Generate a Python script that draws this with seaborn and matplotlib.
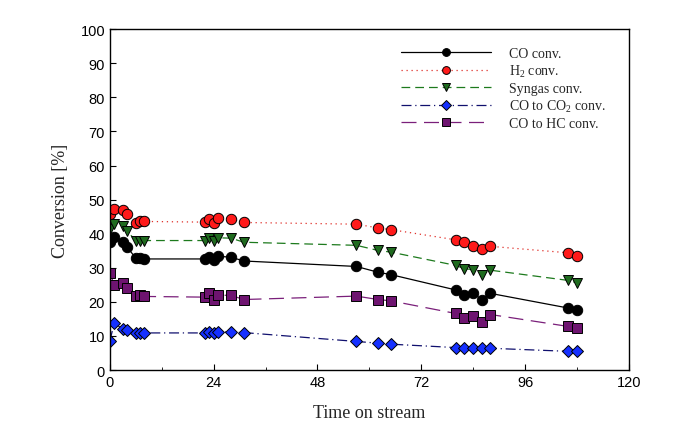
import numpy as np
import pandas as pd
import matplotlib
matplotlib.use("Agg")
import matplotlib.pyplot as plt
from matplotlib.ticker import MultipleLocator
import seaborn as sns

# Time on stream (h)
time = [0, 1, 3, 4, 6, 7, 8, 22, 23, 24, 25, 28, 31, 57, 62, 65, 80, 82, 84, 86, 88, 106, 108]

co_conv = [37.6, 39.0, 37.7, 36.1, 32.8, 33.0, 32.6, 32.6, 33.3, 32.4, 33.4, 33.1, 32.0,
           30.4, 28.7, 28.0, 23.5, 21.9, 22.5, 20.7, 22.5, 18.2, 17.7]
h2_conv = [45.9, 47.2, 47.1, 45.7, 43.1, 43.6, 43.6, 43.4, 44.4, 43.1, 44.7, 44.4, 43.3,
           42.8, 41.7, 41.2, 38.2, 37.5, 36.4, 35.6, 36.3, 34.4, 33.5]
syngas_conv = [41.5, 42.9, 42.2, 40.7, 38.0, 38.0, 38.0, 38.0, 38.8, 38.0, 38.8, 38.7, 37.5,
               36.6, 35.1, 34.6, 30.7, 29.7, 29.5, 28.0, 29.3, 26.3, 25.6]
co2_conv = [8.6, 13.7, 12.1, 11.8, 10.9, 10.9, 10.9, 10.9, 11.1, 10.9, 11.3, 11.1, 11.0,
            8.4, 7.9, 7.6, 6.6, 6.6, 6.5, 6.5, 6.4, 5.5, 5.5]
hc_conv = [28.5, 25.0, 25.4, 24.0, 21.7, 21.9, 21.6, 21.4, 22.5, 20.7, 22.0, 21.9, 20.7,
           21.7, 20.7, 20.3, 16.6, 15.2, 16.0, 14.2, 16.3, 12.8, 12.2]

labels = ["CO conv.", "H$_2$ conv.", "Syngas conv.", "CO to CO$_2$ conv.", "CO to HC conv."]

sns.set_style("ticks")
plt.rcParams["mathtext.fontset"] = "custom"
plt.rcParams["mathtext.rm"] = "Liberation Serif"
plt.rcParams["font.family"] = ["Liberation Sans", "DejaVu Sans"]

df = pd.DataFrame({"time": time, labels[0]: co_conv, labels[1]: h2_conv,
                   labels[2]: syngas_conv, labels[3]: co2_conv, labels[4]: hc_conv})

# (line colour, marker face, marker, linestyle, marker size)
styles = [
    ("black", "black", "o", "-", 7.5),
    ("#e0302a", "#ff1a1a", "o", (0, (1, 3)), 7.5),
    ("#1d7a1d", "#1f6b1f", "v", (0, (7, 4)), 7.5),
    ("#10106e", "#1530ff", "D", (0, (8, 3, 1, 3)), 6.5),
    ("#7a1f7a", "#6e1470", "s", (0, (12, 6)), 7),
]

fig, ax = plt.subplots(figsize=(6.74, 4.31), dpi=100)
fig.subplots_adjust(left=0.163, right=0.933, top=0.930, bottom=0.139)

for lab, (lc, fc, mk, ls, ms) in zip(labels, styles):
    sns.lineplot(data=df, x="time", y=lab, ax=ax, label=lab, color=lc,
                 linestyle=ls, linewidth=0.9, marker=mk, markersize=ms,
                 markerfacecolor=fc, markeredgecolor="black", markeredgewidth=0.7)

ax.set_xlim(0, 120)
ax.set_ylim(0, 100)
ax.xaxis.set_major_locator(MultipleLocator(24))
ax.xaxis.set_minor_locator(MultipleLocator(12))
ax.yaxis.set_major_locator(MultipleLocator(10))
ax.tick_params(which="both", direction="in", labelsize=10.5, colors="black")
ax.tick_params(which="major", length=4)
ax.tick_params(which="minor", length=2.5)
for s in ax.spines.values():
    s.set_linewidth(1.0)
    s.set_color("black")

ax.set_xlabel("Time on stream", family="Liberation Serif", fontsize=13, labelpad=11)
ax.set_ylabel("Conversion [%]", family="Liberation Serif", fontsize=13, labelpad=8)

leg = ax.legend(loc="upper right", bbox_to_anchor=(0.98, 0.985), frameon=False,
                prop={"family": "Liberation Serif", "size": 10},
                handlelength=6.5, handletextpad=1.3, labelspacing=0.2, markerscale=0.75)

plt.savefig("out.png", dpi=100)
